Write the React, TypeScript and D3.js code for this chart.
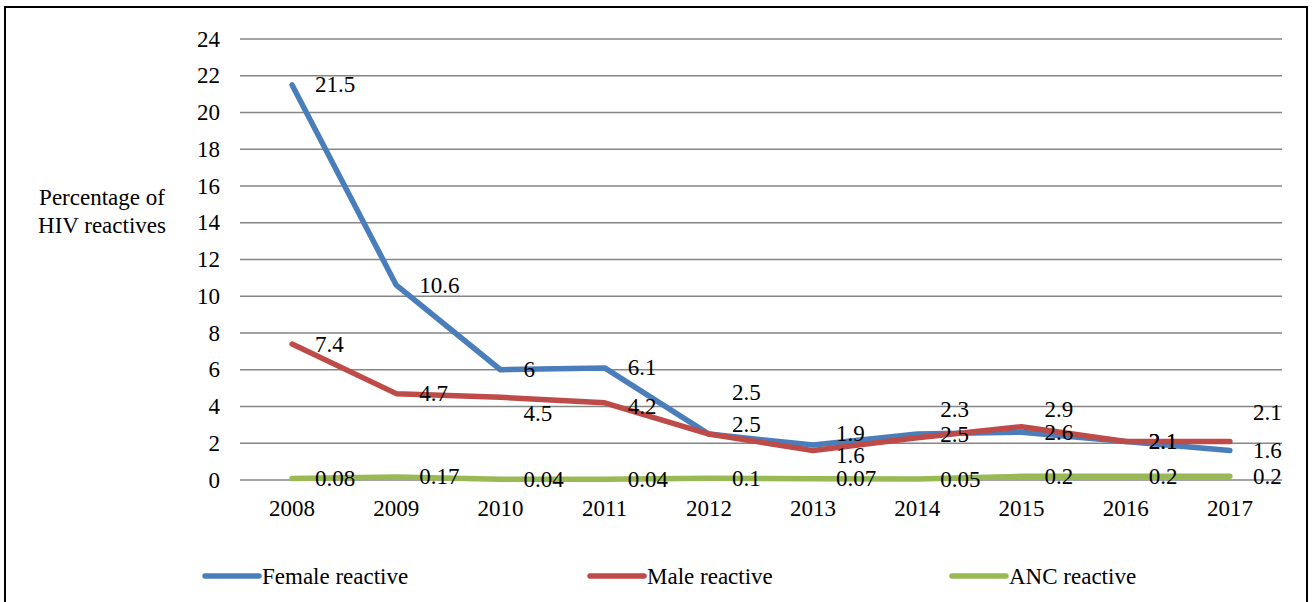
import * as d3 from "d3";

const years = ["2008", "2009", "2010", "2011", "2012", "2013", "2014", "2015", "2016", "2017"];
const female = [21.5, 10.6, 6, 6.1, 2.5, 1.9, 2.5, 2.6, 2.1, 1.6];
const male = [7.4, 4.7, 4.5, 4.2, 2.5, 1.6, 2.3, 2.9, 2.1, 2.1];
const anc = [0.08, 0.17, 0.04, 0.04, 0.1, 0.07, 0.05, 0.2, 0.2, 0.2];
const yTicks = [0, 2, 4, 6, 8, 10, 12, 14, 16, 18, 20, 22, 24];

// vertical nudges for data labels so they don't collide (px)
const femaleShift = [0, 0, 0, 0, -10, -12, 0, 0, 0, 0];
const maleShift = [0, 0, 16, 4, -42, 5, -28, -17, 0, -29];
const ancShift = [0, 0, 0, 0, 0, 0, 0, 0, 0, 0];

const W = 1312;
const H = 602;
const txt = { fontFamily: "Liberation Serif", fontSize: 23 };

const series = [
  { name: "Female reactive", values: female, shift: femaleShift, color: "#4A7EBB", legendX: 205 },
  { name: "Male reactive", values: male, shift: maleShift, color: "#BE4B48", legendX: 590 },
  { name: "ANC reactive", values: anc, shift: ancShift, color: "#98B954", legendX: 952 },
];

export default function App() {
  const x = d3.scaleBand<string>().domain(years).range([240, 1282]).padding(0);
  const y = d3.scaleLinear().domain([0, 24]).range([480, 39]);
  const cx = (yr: string) => x(yr)! + x.bandwidth() / 2;

  const line = d3
    .line<number>()
    .x((_, i) => cx(years[i]))
    .y((d) => y(d));

  return (
    <svg width={W} height={H} style={{ position: "absolute", left: 0, top: 0, background: "#fff" }}>
      <rect x={5} y={7} width={1302} height={H + 10} fill="#fff" stroke="#000" strokeWidth={2} />

      {yTicks.map((t) => (
        <g key={t}>
          <line x1={240} x2={1282} y1={y(t)} y2={y(t)} stroke="#868686" strokeWidth={1.5} />
          <text x={220} y={y(t)} textAnchor="end" dominantBaseline="central" style={txt} fill="#000">
            {t}
          </text>
        </g>
      ))}

      {years.map((yr) => (
        <text key={yr} x={cx(yr)} y={516} textAnchor="middle" style={txt} fill="#000">
          {yr}
        </text>
      ))}

      <text x={102} y={205} textAnchor="middle" style={txt} fill="#000">
        Percentage of
      </text>
      <text x={102} y={233} textAnchor="middle" style={txt} fill="#000">
        HIV reactives
      </text>

      {series.map((s) => (
        <path
          key={s.name}
          d={line(s.values) ?? ""}
          fill="none"
          stroke={s.color}
          strokeWidth={5.5}
          strokeLinejoin="round"
          strokeLinecap="round"
        />
      ))}

      {series.map((s) =>
        s.values.map((v, i) => (
          <text
            key={s.name + i}
            x={cx(years[i]) + 23}
            y={y(v) + s.shift[i]}
            dominantBaseline="central"
            style={txt}
            fill="#000"
          >
            {v}
          </text>
        ))
      )}

      {series.map((s) => (
        <g key={"lg" + s.name}>
          <line
            x1={s.legendX}
            x2={s.legendX + 54}
            y1={576}
            y2={576}
            stroke={s.color}
            strokeWidth={5.5}
            strokeLinecap="round"
          />
          <text x={s.legendX + 57} y={576} dominantBaseline="central" style={txt} fill="#000">
            {s.name}
          </text>
        </g>
      ))}
    </svg>
  );
}
